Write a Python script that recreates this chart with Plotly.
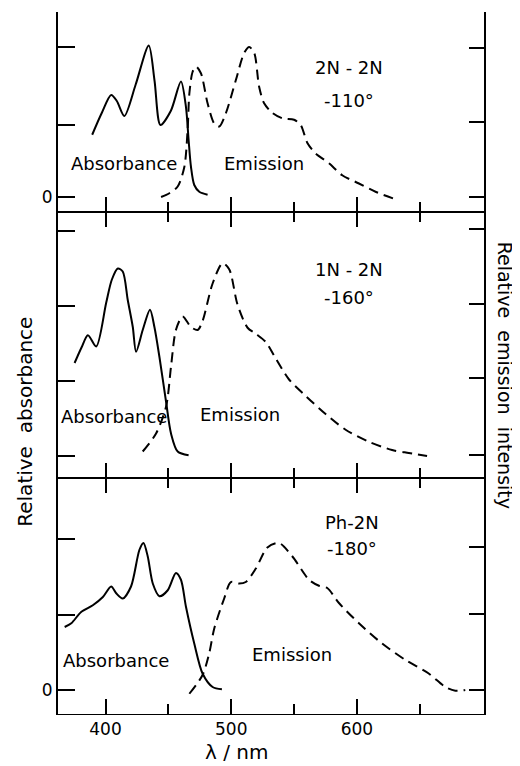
import plotly.graph_objects as go

# ---------------- data (wavelength in nm, relative intensity) ----------------
# Panel 1: 2N-2N, -110 deg
abs1_nm = [389.4, 397, 404.5, 409, 415, 424, 434.4, 439, 443.7, 452, 460, 464, 466.1, 468, 470.6, 474.6, 481.2]
abs1_v = [0.83, 1.12, 1.36, 1.28, 1.08, 1.50, 2.02, 1.55, 0.96, 1.15, 1.54, 1.20, 0.76, 0.40, 0.16, 0.07, 0.03]
em1_nm = [444.2, 450.8, 457.4, 462.7, 465.3, 466.7, 469.3, 472, 475.9, 481.2, 486.5, 490.5, 495.8, 503.7, 510.3,
          514.3, 518.3, 522.2, 526.2, 532.8, 540.7, 550, 555.3, 560.6, 567.2, 577.8, 588.3, 601.6, 614.8, 630.7]
em1_v = [0.0, 0.05, 0.14, 0.40, 0.89, 1.38, 1.67, 1.74, 1.65, 1.25, 0.98, 0.94, 1.12, 1.56, 1.92,
         2.0, 1.92, 1.47, 1.25, 1.12, 1.05, 1.03, 0.96, 0.72, 0.58, 0.45, 0.29, 0.18, 0.07, -0.03]

# Panel 2: 1N-2N, -160 deg
abs2_nm = [375.4, 381, 386, 392.6, 400.5, 405, 409.8, 413.7, 417.7, 421.7, 424.3, 429.6, 435.4, 438.9,
           442.9, 448.2, 452.1, 457.4, 466.1]
abs2_v = [1.24, 1.45, 1.61, 1.46, 2.04, 2.35, 2.50, 2.46, 2.08, 1.72, 1.39, 1.68, 1.95, 1.72,
          1.32, 0.72, 0.30, 0.06, 0.01]
em2_nm = [429.6, 440.2, 448.2, 452.1, 456, 461.3, 468, 473.3, 477.2, 485.2, 493.1, 498.4, 505, 513,
          519.6, 527.5, 535.5, 546, 559.3, 575.1, 591, 609.5, 628, 641.3, 655.8]
em2_v = [0.06, 0.30, 0.66, 1.19, 1.68, 1.86, 1.72, 1.68, 1.80, 2.30, 2.57, 2.49, 2.02, 1.71,
         1.63, 1.52, 1.30, 1.02, 0.80, 0.56, 0.35, 0.19, 0.08, 0.04, 0.0]

# Panel 3: Ph-2N, -180 deg
abs3_nm = [367.5, 372.8, 380.6, 389.9, 397.9, 404.5, 408.5, 413.7, 420.3, 427, 430.2, 433.6, 437.6,
           442.9, 449.5, 456, 460, 464, 470.6, 477.2, 485.2, 492.6]
abs3_v = [0.84, 0.89, 1.04, 1.13, 1.24, 1.38, 1.29, 1.22, 1.38, 1.87, 1.96, 1.78, 1.42,
          1.25, 1.33, 1.56, 1.47, 1.11, 0.62, 0.22, 0.04, 0.01]
em3_nm = [466.7, 477.2, 482.5, 486.5, 494.4, 499.7, 506.3, 511.6, 519.6, 528.8, 538, 548.7, 561.9,
          569.8, 576.4, 585.7, 601.6, 620, 638.6, 657.1, 670.3, 678.3, 686.2]
em3_v = [-0.05, 0.20, 0.49, 0.82, 1.22, 1.44, 1.42, 1.44, 1.62, 1.90, 1.96, 1.78, 1.47,
         1.39, 1.36, 1.16, 0.89, 0.62, 0.40, 0.22, 0.04, -0.01, 0.0]

x_major = [400, 500, 600]
x_minor = [450, 550, 650]
x_labels = ["400", "500", "600"]

left_ticks = [[0, 0.96, 2.0], [0, 1, 2, 3], [0, 1, 2.01]]
left_text = [["0", "", ""], ["", "", "", ""], ["0", "", ""]]
right_ticks = [[0, 1.0, 1.99], [0.01, 1.04, 2.03, 3.03], [0, 1.01, 1.91]]

panel_names = [("2N - 2N", "-110°"), ("1N - 2N", "-160°"), ("Ph-2N", "-180°")]

FONT = "DejaVu Sans"
BLACK = "black"

# ---------------- figure ----------------
fig = go.Figure()
abs_sets = [(abs1_nm, abs1_v), (abs2_nm, abs2_v), (abs3_nm, abs3_v)]
em_sets = [(em1_nm, em1_v), (em2_nm, em2_v), (em3_nm, em3_v)]
for i in range(3):
    xa = "x" if i == 0 else f"x{i+1}"
    ya = "y" if i == 0 else f"y{i+1}"
    yr = f"y{i+4}"
    fig.add_trace(go.Scatter(x=abs_sets[i][0], y=abs_sets[i][1], xaxis=xa, yaxis=ya, mode="lines",
                             line=dict(color=BLACK, width=2, shape="spline", smoothing=0.8),
                             showlegend=False, hoverinfo="skip"))
    fig.add_trace(go.Scatter(x=em_sets[i][0], y=em_sets[i][1], xaxis=xa, yaxis=yr, mode="lines",
                             line=dict(color=BLACK, width=2, shape="spline", smoothing=0.8, dash="10px,6px"),
                             showlegend=False, hoverinfo="skip"))

domains = [[0.7151, 1.0], [0.33618, 0.7151], [0.0, 0.33618]]
ranges = [[-0.2, 2.4667], [-0.2933, 3.2533], [-0.32, 2.8267]]
XR = [362.2, 701.1]

# page body has an 8px margin; size the figure so the plot area lands where the reference has it
layout = dict(
    width=512, height=758,
    margin=dict(l=50, r=36, t=4, b=52),
    paper_bgcolor="white", plot_bgcolor="white",
    font=dict(family=FONT, color=BLACK, size=16),
    showlegend=False,
)
for i in range(3):
    xkey = "xaxis" if i == 0 else f"xaxis{i+1}"
    ykey = "yaxis" if i == 0 else f"yaxis{i+1}"
    rkey = f"yaxis{i+4}"
    yname = "y" if i == 0 else f"y{i+1}"
    xname = "x" if i == 0 else f"x{i+1}"
    layout[xkey] = dict(
        domain=[0, 1], anchor=yname, range=XR, showgrid=False, zeroline=False,
        showline=True, linecolor=BLACK, linewidth=1.0,
        ticks="inside", ticklen=15, tickwidth=1.5, tickcolor=BLACK,
        tickvals=x_major, ticktext=x_labels,
        showticklabels=(i == 2), tickfont=dict(size=17, family=FONT),
        mirror=("ticks" if i > 0 else False),
        minor=dict(tickvals=x_minor, ticks="inside", ticklen=10, tickwidth=1.5, tickcolor=BLACK, showgrid=False),
    )
    if i > 0:
        layout[xkey]["matches"] = "x"
    layout[ykey] = dict(
        domain=domains[i], anchor=xname, range=ranges[i], showgrid=False, zeroline=False,
        showline=True, linecolor=BLACK, linewidth=2,
        ticks="inside", ticklen=17, tickwidth=1.5, tickcolor=BLACK,
        tickvals=left_ticks[i], ticktext=left_text[i], tickfont=dict(size=17, family=FONT),
    )
    layout[rkey] = dict(
        overlaying=yname, anchor=xname, side="right", range=ranges[i], showgrid=False, zeroline=False,
        showline=True, linecolor=BLACK, linewidth=2,
        ticks="inside", ticklen=15, tickwidth=1.5, tickcolor=BLACK,
        tickvals=right_ticks[i], showticklabels=False,
    )
fig.update_layout(**layout)

# ---------------- text labels ----------------
label_pos = [  # (abs x, abs y, em x, em y, name x, name y1, name y2)
    (415, 0.45, 526, 0.45, 594, 1.73, 1.29),
    (407, 0.53, 506.6, 0.55, 594, 2.48, 2.11),
    (408, 0.40, 548, 0.47, 595.7, 2.24, 1.89),
]
for i in range(3):
    xa = "x" if i == 0 else f"x{i+1}"
    ya = "y" if i == 0 else f"y{i+1}"
    ax, ay, ex, ey, nx, ny1, ny2 = label_pos[i]
    for (tx, ty, txt) in [(ax, ay, "Absorbance"), (ex, ey, "Emission"),
                          (nx, ny1, panel_names[i][0]), (nx, ny2, panel_names[i][1])]:
        fig.add_annotation(x=tx, y=ty, xref=xa, yref=ya, text=txt, showarrow=False,
                           font=dict(size=18, family=FONT, color=BLACK), xanchor="center", yanchor="middle")

fig.add_annotation(x=0.419, y=-0.054, xref="paper", yref="paper", text="λ / nm", showarrow=False,
                   font=dict(size=20, family=FONT, color=BLACK), xanchor="center", yanchor="middle")
fig.add_annotation(x=-0.078, y=0.416, xref="paper", yref="paper", text="Relative  absorbance",
                   showarrow=False, textangle=-90,
                   font=dict(size=20, family=FONT, color=BLACK), xanchor="center", yanchor="middle")
fig.add_annotation(x=1.05, y=0.483, xref="paper", yref="paper", text="Relative  emission  intensity",
                   showarrow=False, textangle=90,
                   font=dict(size=19, family=FONT, color=BLACK), xanchor="center", yanchor="middle")

fig.write_html("out.html")
